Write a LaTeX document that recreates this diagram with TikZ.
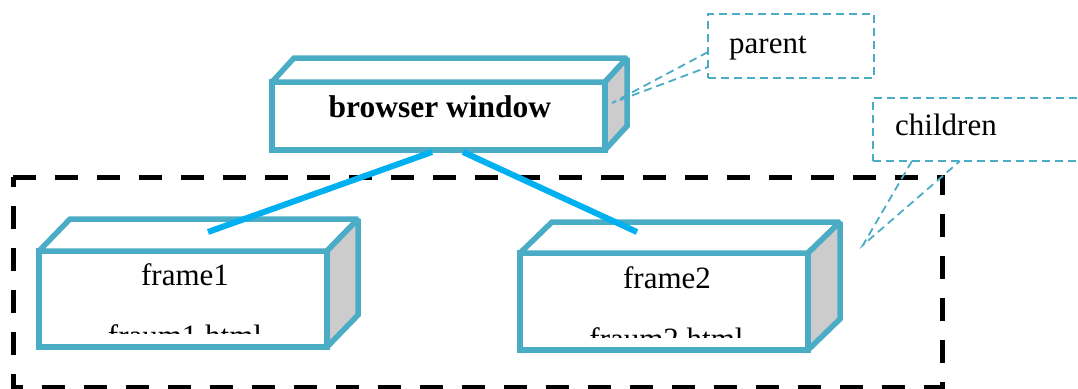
\documentclass[tikz,border=0pt]{standalone}
\usepackage{fontspec}
\setmainfont{Liberation Serif}
\definecolor{boxc}{HTML}{4BACC6}
\definecolor{linkc}{HTML}{00B0F0}
\definecolor{sidec}{HTML}{CCCCCC}
\newcommand\mycuboid[3]{%
  \filldraw[boxedge, fill=white] (#1.north west) -- ++(#2,#3) -- ([shift={(#2,#3)}]#1.north east) -- (#1.north east) -- cycle;
  \filldraw[boxedge, fill=sidec] (#1.north east) -- ++(#2,#3) -- ([shift={(#2,#3)}]#1.south east) -- (#1.south east) -- cycle;
}
\begin{document}
\begin{tikzpicture}[x=1pt,y=-1pt,
  boxedge/.style={draw=boxc, line width=5.5pt, line join=miter, miter limit=1.6},
  front/.style={boxedge, fill=white, rectangle, inner sep=0pt, outer sep=0pt},
  lbl/.style={font=\fontsize{31}{37}\selectfont, inner sep=0pt, anchor=base},
  callout/.style={draw=boxc, line width=1.8pt, dash pattern=on 8pt off 5pt, rectangle, inner sep=0pt, outer sep=0pt},
  link/.style={draw=linkc, line width=6pt},
  group/.style={draw=black, line width=5pt, dash pattern=on 23pt off 19pt}
]
\useasboundingbox (0,0) rectangle (1078,388);

% dashed group frame
\draw[group] (13,177) -- (942,177) -- (942,387) -- (13,387) -- cycle;

% browser window
\node[front, minimum width=333pt, minimum height=68pt] (bw) at (438.5,116) {};
\mycuboid{bw}{22}{-24}
\node[lbl, font=\fontsize{31.5}{37}\selectfont\bfseries] (bwt) at (440,117) {browser window};

% frame1
\node[front, minimum width=288pt, minimum height=96pt] (f1) at (183,299) {};
\mycuboid{f1}{31}{-32}
\node[lbl] (f1t) at (185,285) {frame1};
\begin{scope}
  \clip (40,255) rectangle (325,333);
  \node[lbl] (f1h) at (185,346) {fraum1.html};
\end{scope}

% frame2
\node[front, minimum width=288pt, minimum height=97pt] (f2) at (664,301.5) {};
\mycuboid{f2}{32}{-31}
\node[lbl] (f2t) at (667,288) {frame2};
\begin{scope}
  \clip (522,257) rectangle (806,337);
  \node[lbl] (f2h) at (666.5,349) {fraum2.html};
\end{scope}

% connectors
\coordinate (l1s) at (432,152);
\coordinate (l1e) at (208,232);
\coordinate (l2s) at (463,152);
\coordinate (l2e) at (637,232);
\draw[link] (l1s) -- (l1e);
\draw[link] (l2s) -- (l2e);

% parent callout
\node[callout, minimum width=166pt, minimum height=64pt] (par) at (791,46) {};
\node[lbl, anchor=base west] (part) at (729,53) {parent};
\coordinate (ptip) at (612,103);
\draw[callout] ([yshift=-6pt]par.west) -- (ptip) -- ([yshift=-21pt]par.west);

% children callout
\node[callout, minimum width=220pt, minimum height=63pt] (chi) at (983,129.5) {};
\node[lbl, anchor=base west] (chit) at (895,135) {children};
\coordinate (ctip) at (863,245);
\draw[callout] (912,161) -- (ctip) -- (960,161);
\end{tikzpicture}
\end{document}
